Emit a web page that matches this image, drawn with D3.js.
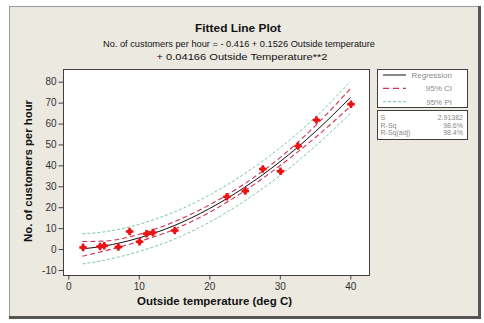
<!DOCTYPE html>
<html>
<head>
<meta charset="utf-8">
<script src="https://cdn.jsdelivr.net/npm/d3@7"></script>
<style>
  html, body { margin: 0; padding: 0; background: #ffffff; }
  svg { display: block; }
</style>
</head>
<body>
<script>
// ---- data ----
const tempObs = [2.1, 4.5, 5.1, 7.1, 8.7, 10.1, 11.1, 12.0, 15.1, 22.5, 25.1, 27.6, 30.1, 32.6, 35.2, 40.1];
const custObs = [0.8, 1.2, 1.6, 1.0, 8.4, 3.5, 7.3, 7.9, 8.9, 25.0, 27.8, 38.3, 37.2, 49.3, 61.7, 69.2];

const curveX  = [2, 5, 10, 15, 20, 25, 30, 35, 40];
const fitY    = [0.1, 1.4, 5.3, 11.2, 19.3, 29.5, 41.7, 56.0, 72.4];
const ciLowY  = [-3.4, -1.0, 3.6, 9.4, 17.5, 27.8, 39.8, 53.2, 68.2];
const ciHighY = [3.6, 3.8, 7.0, 13.0, 21.1, 31.2, 43.6, 58.8, 76.6];
const piLowY  = [-7.1, -5.4, -1.2, 4.7, 12.8, 23.0, 35.1, 49.1, 64.8];
const piHighY = [7.3, 8.2, 11.8, 17.7, 25.8, 36.0, 48.3, 62.9, 80.0];

const xTicks = [0, 10, 20, 30, 40];
const yTicks = [-10, 0, 10, 20, 30, 40, 50, 60, 70, 80];

const legendLabels = ["Regression", "95% CI", "95% PI"];
const statLabels = ["S", "R-Sq", "R-Sq(adj)"];
const statValues = ["2.91382", "98.6%", "98.4%"];

const titleText = "Fitted Line Plot";
const subtitle1 = "No. of customers per hour =  - 0.416 + 0.1526 Outside temperature";
const subtitle2 = "+ 0.04166 Outside Temperature**2";
const xLabel = "Outside temperature (deg C)";
const yLabel = "No. of customers per hour";

// ---- layout ----
const W = 484, H = 323;
const plot = { left: 63, right: 369, top: 69, bottom: 275 };
const font = "'Liberation Sans', Arial, sans-serif";

const svg = d3.select("body").append("svg").attr("width", W).attr("height", H);

// outer frame
svg.append("rect").attr("x", 9.5).attr("y", 6.5).attr("width", 470).attr("height", 311)
  .attr("fill", "#ECE9E1").attr("stroke", "#9a9a9a").attr("stroke-width", 1);
svg.append("rect").attr("x", 478).attr("y", 6).attr("width", 3).attr("height", 313).attr("fill", "#555");
svg.append("rect").attr("x", 9).attr("y", 316).attr("width", 472).attr("height", 3).attr("fill", "#555");

const x = d3.scaleLinear().domain([0, 40]).range([68.3, 350.3]);
const y = d3.scaleLinear().domain([-10, 80]).range([270, 81.7]);

// plot area
svg.append("rect").attr("x", plot.left + 0.5).attr("y", plot.top + 0.5)
  .attr("width", plot.right - plot.left).attr("height", plot.bottom - plot.top)
  .attr("fill", "#ffffff").attr("stroke", "#404040").attr("stroke-width", 1);

// axes
const xAxis = d3.axisBottom(x).tickValues(xTicks).tickFormat(d => String(d)).tickSize(4).tickPadding(3);
const gx = svg.append("g").attr("transform", `translate(0,${plot.bottom + 0.5})`).call(xAxis);
gx.select(".domain").remove();
gx.selectAll("line").attr("stroke", "#404040");
gx.selectAll("text").attr("font-family", font).attr("font-size", 10).attr("fill", "#303030");

const yAxis = d3.axisLeft(y).tickValues(yTicks).tickFormat(d => String(d)).tickSize(5).tickPadding(2);
const gy = svg.append("g").attr("transform", `translate(${plot.left + 0.5},0)`).call(yAxis);
gy.select(".domain").remove();
gy.selectAll("line").attr("stroke", "#404040");
gy.selectAll("text").attr("font-family", font).attr("font-size", 10).attr("fill", "#303030");

// curves
const mk = arr => d3.line().x((d, i) => x(curveX[i])).y(d => y(d)).curve(d3.curveMonotoneX)(arr);
const curveG = svg.append("g");
[piLowY, piHighY].forEach(a => curveG.append("path").attr("d", mk(a)).attr("fill", "none")
  .attr("stroke", "#7cc9a0").attr("stroke-width", 1).attr("stroke-dasharray", "3,2"));
[ciLowY, ciHighY].forEach(a => curveG.append("path").attr("d", mk(a)).attr("fill", "none")
  .attr("stroke", "#cc3355").attr("stroke-width", 1.1).attr("stroke-dasharray", "5,3"));
curveG.append("path").attr("d", mk(fitY)).attr("fill", "none")
  .attr("stroke", "#111").attr("stroke-width", 1);

// points
const sym = d3.symbol().type(d3.symbolCross).size(32);
svg.append("g").selectAll("path").data(tempObs).join("path")
  .attr("transform", (d, i) => `translate(${x(d)},${y(custObs[i])})`)
  .attr("d", sym).attr("fill", "#ee1111");
svg.append("g").selectAll("circle").data(tempObs).join("circle")
  .attr("cx", d => x(d)).attr("cy", (d, i) => y(custObs[i])).attr("r", 2.5).attr("fill", "#ee1111");

// titles
svg.append("text").attr("x", 238).attr("y", 31.5).attr("text-anchor", "middle")
  .attr("font-family", font).attr("font-weight", "bold").attr("font-size", 11.5)
  .attr("textLength", 86).attr("lengthAdjust", "spacingAndGlyphs").attr("fill", "#111").text(titleText);
svg.append("text").attr("x", 239).attr("y", 46.5).attr("text-anchor", "middle")
  .attr("font-family", font).attr("font-size", 9)
  .attr("textLength", 272).attr("lengthAdjust", "spacingAndGlyphs").attr("fill", "#111").text(subtitle1);
svg.append("text").attr("x", 242).attr("y", 59.5).attr("text-anchor", "middle")
  .attr("font-family", font).attr("font-size", 9)
  .attr("textLength", 171).attr("lengthAdjust", "spacingAndGlyphs").attr("fill", "#111").text(subtitle2);

// axis labels
svg.append("text").attr("x", 214.5).attr("y", 304.5).attr("text-anchor", "middle")
  .attr("font-family", font).attr("font-weight", "bold").attr("font-size", 11)
  .attr("textLength", 155).attr("lengthAdjust", "spacingAndGlyphs").attr("fill", "#111").text(xLabel);
svg.append("text").attr("transform", "translate(32,171) rotate(-90)").attr("text-anchor", "middle")
  .attr("font-family", font).attr("font-weight", "bold").attr("font-size", 11)
  .attr("textLength", 142).attr("lengthAdjust", "spacingAndGlyphs").attr("fill", "#111").text(yLabel);

// legend box 1
svg.append("rect").attr("x", 377.5).attr("y", 69.5).attr("width", 90).attr("height", 38)
  .attr("fill", "#ffffff").attr("stroke", "#404040");
const legRows = [75, 88.3, 101.7];
const legStyles = [
  { stroke: "#111", dash: null, w: 1 },
  { stroke: "#cc3355", dash: "6,4", w: 1.3 },
  { stroke: "#7cc9a0", dash: "3,2", w: 1 }
];
legendLabels.forEach((lab, i) => {
  const l = svg.append("line").attr("x1", 383).attr("x2", 406).attr("y1", legRows[i]).attr("y2", legRows[i])
    .attr("stroke", legStyles[i].stroke).attr("stroke-width", legStyles[i].w);
  if (legStyles[i].dash) l.attr("stroke-dasharray", legStyles[i].dash);
  svg.append("text").attr("x", 452).attr("y", legRows[i] + 2.8).attr("text-anchor", "end")
    .attr("font-family", font).attr("font-size", 8).attr("fill", "#8a8a8a").text(lab);
});

// legend box 2
svg.append("rect").attr("x", 377.5).attr("y", 110.5).attr("width", 90).attr("height", 29)
  .attr("fill", "#ffffff").attr("stroke", "#404040");
const statRows = [117.5, 125, 132.5];
statLabels.forEach((lab, i) => {
  svg.append("text").attr("x", 380.5).attr("y", statRows[i] + 2.5)
    .attr("font-family", font).attr("font-size", 7).attr("fill", "#8a8a8a").text(lab);
  svg.append("text").attr("x", 463).attr("y", statRows[i] + 2.5).attr("text-anchor", "end")
    .attr("font-family", font).attr("font-size", 7).attr("fill", "#8a8a8a").text(statValues[i]);
});
</script>
</body>
</html>
